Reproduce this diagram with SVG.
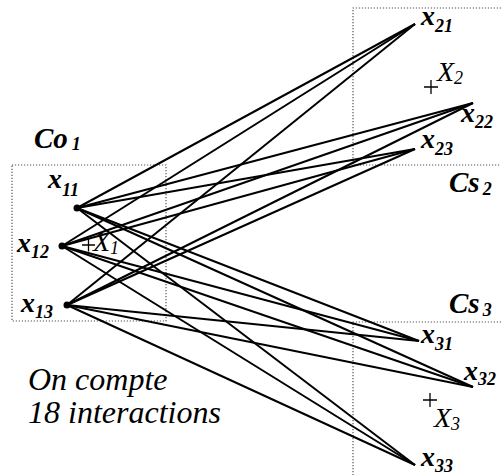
<svg xmlns="http://www.w3.org/2000/svg" width="501" height="475" viewBox="0 0 501 475">
<style>
text{font-family:'Liberation Serif','Times New Roman',Times,serif;fill:#000}
.bi{font-weight:bold;font-style:italic;font-size:28px}
.bs{font-weight:bold;font-style:italic;font-size:18px}
.ci{font-weight:bold;font-style:italic;font-size:29px}
.it{font-style:italic;font-size:28px}
.is{font-style:italic;font-size:18px}
.big{font-style:italic;font-size:32px}
.box{fill:none;stroke:#555;stroke-width:1.2;stroke-dasharray:1.2 1.8}
.cn line{stroke:#000;stroke-width:2}
.pl{stroke:#000;stroke-width:1.3;fill:none}
</style>
<g id="boxes">
<path class="box" d="M12,165 H166 V321 H12 Z"/>
<path class="box" d="M501,8 H353 V165 H501"/>
<path class="box" d="M501,322 H353 V475"/>
</g>
<g id="connectors" class="cn">
<line x1="77" y1="208" x2="415" y2="24"/>
<line x1="77" y1="208" x2="473" y2="103"/>
<line x1="77" y1="208" x2="415" y2="149"/>
<line x1="77" y1="208" x2="419" y2="341"/>
<line x1="77" y1="208" x2="473" y2="387"/>
<line x1="77" y1="208" x2="415" y2="465"/>
<line x1="62" y1="246" x2="415" y2="24"/>
<line x1="62" y1="246" x2="473" y2="103"/>
<line x1="62" y1="246" x2="415" y2="149"/>
<line x1="62" y1="246" x2="419" y2="341"/>
<line x1="62" y1="246" x2="473" y2="387"/>
<line x1="62" y1="246" x2="415" y2="465"/>
<line x1="67" y1="305" x2="415" y2="24"/>
<line x1="67" y1="305" x2="473" y2="103"/>
<line x1="67" y1="305" x2="415" y2="149"/>
<line x1="67" y1="305" x2="419" y2="341"/>
<line x1="67" y1="305" x2="473" y2="387"/>
<line x1="67" y1="305" x2="415" y2="465"/>
</g>
<g id="Co1"><text x="34" y="148" class="ci">Co<tspan class="bs" dx="4" dy="2">1</tspan></text></g>
<g id="Cs2"><text x="449" y="192" class="ci">Cs<tspan class="bs" dx="3" dy="3">2</tspan></text></g>
<g id="Cs3"><text x="449" y="313" class="ci">Cs<tspan class="bs" dx="3" dy="3">3</tspan></text></g>
<g id="x11"><circle cx="77" cy="208" r="3.5"/><text x="48" y="188" class="bi">x<tspan class="bs" dy="8">11</tspan></text></g>
<g id="x12"><circle cx="62" cy="246" r="3.5"/><text x="17" y="252" class="bi">x<tspan class="bs" dy="6">12</tspan></text></g>
<g id="x13"><circle cx="67" cy="305" r="3.5"/><text x="21" y="312" class="bi">x<tspan class="bs" dy="6">13</tspan></text></g>
<g id="x21"><text x="421" y="25" class="bi">x<tspan class="bs" dy="7">21</tspan></text></g>
<g id="x22"><text x="461" y="122" class="bi">x<tspan class="bs" dy="6">22</tspan></text></g>
<g id="x23"><text x="421" y="148" class="bi">x<tspan class="bs" dy="7">23</tspan></text></g>
<g id="x31"><text x="421" y="343" class="bi">x<tspan class="bs" dy="7">31</tspan></text></g>
<g id="x32"><text x="464" y="380" class="bi">x<tspan class="bs" dy="5">32</tspan></text></g>
<g id="x33"><text x="421" y="466" class="bi">x<tspan class="bs" dy="6">33</tspan></text></g>
<g id="X1"><path class="pl" d="M82,245 H95 M88.5,238.5 V251.5"/><text x="93" y="251" class="it">X<tspan class="is" dy="3">1</tspan></text></g>
<g id="X2"><path class="pl" d="M424,87 H438 M431,80 V94"/><text x="437" y="81" class="it">X<tspan class="is" dy="3">2</tspan></text></g>
<g id="X3"><path class="pl" d="M423,400 H437 M430,393 V407"/><text x="434" y="427" class="it">X<tspan class="is" dy="3">3</tspan></text></g>
<g id="note"><text x="28" y="390" class="big">On compte</text><text x="28" y="423" class="big">18 interactions</text></g>
</svg>
